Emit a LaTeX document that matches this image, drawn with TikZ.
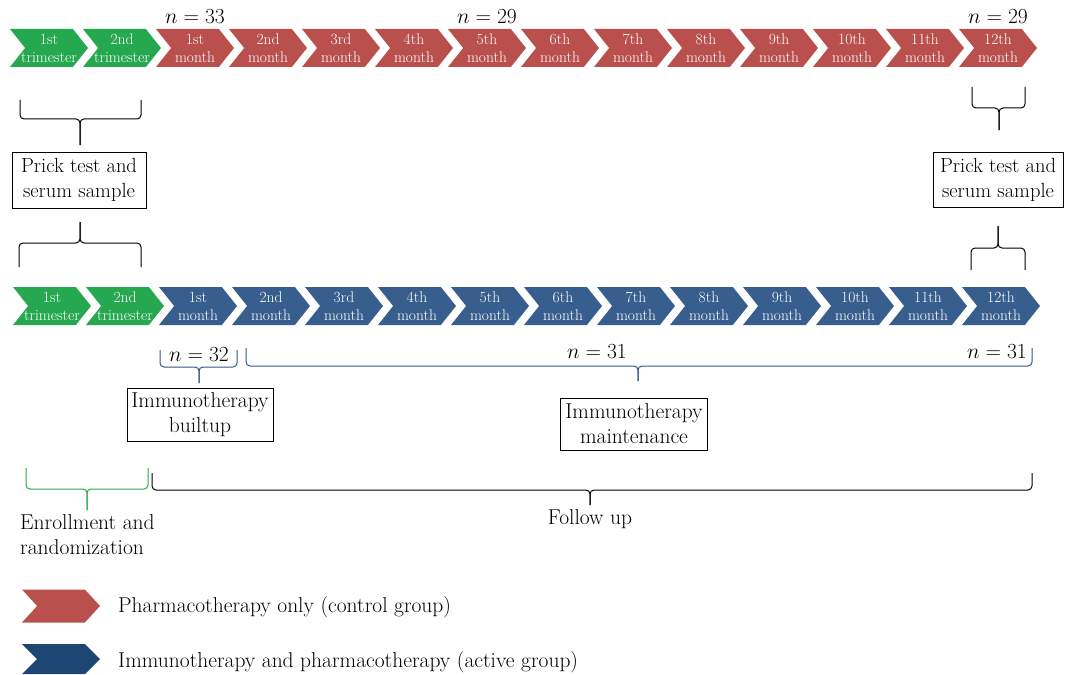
\RequirePackage{fix-cm}
\documentclass[tikz,border=0pt]{standalone}
\usetikzlibrary{shapes.symbols,positioning}
\definecolor{trigreen}{RGB}{38,168,80}
\definecolor{ctlred}{RGB}{185,80,78}
\definecolor{actblue}{RGB}{55,94,141}
\definecolor{legblue}{RGB}{30,70,117}
\definecolor{brcblue}{RGB}{50,85,140}
\definecolor{brcgreen}{RGB}{40,170,70}
\tikzset{%
    chev/.style = {signal, signal from=west, signal to=east, signal pointer angle=103,
        minimum width=78pt, minimum height=38pt, inner sep=0pt, draw=none},
    chevtext/.style = {text=white, align=center, inner sep=0pt, font=\fontsize{15.5}{18}\selectfont},
    box/.style = {draw, line width=0.8pt, align=center, inner sep=0pt, font=\fontsize{21.5}{25}\selectfont},
    txt/.style = {inner sep=0pt, font=\fontsize{21.5}{25}\selectfont},
    brc/.style = {line width=1pt, rounded corners=4pt},
}

\begin{document}
\begin{tikzpicture}[x=1pt, y=-1pt]
    \useasboundingbox (0,0) rectangle (1067,674);

    % control group row
    \foreach \t [count=\k] in {1st,2nd}
        \node[chev, fill=trigreen, label={[chevtext]center:{\t\\trimester}}] (ct\k) at ({49+73*(\k-1)},48) {};
    \foreach \m [count=\k] in {1st,2nd,3rd,4th,5th,6th,7th,8th,9th,10th,11th,12th}
        \node[chev, fill=ctlred, label={[chevtext]center:{\m\\month}}] (cm\k) at ({49+73*(\k+1)},48) {};

    % active group row
    \foreach \t [count=\k] in {1st,2nd}
        \node[chev, fill=trigreen, label={[chevtext]center:{\t\\trimester}}] (at\k) at ({52+73*(\k-1)},306) {};
    \foreach \m [count=\k] in {1st,2nd,3rd,4th,5th,6th,7th,8th,9th,10th,11th,12th}
        \node[chev, fill=actblue, label={[chevtext]center:{\m\\month}}] (am\k) at ({52+73*(\k+1)},306) {};

    % sample sizes
    \node[txt, above=5pt of cm1] (n1) {$n = 33$};
    \node[txt, above=5pt of cm5] (n5) {$n = 29$};
    \node[txt, above=5pt of cm12] (n12) {$n = 29$};
    \node[txt, anchor=base] (nb) at (199,361) {$n = 32$};
    \node[txt, anchor=base] (nm) at (597,358) {$n = 31$};
    \node[txt, anchor=base] (ne) at (997,358) {$n = 31$};

    % boxes
    \node[box, font=\fontsize{20.5}{25}\selectfont, minimum width=134pt, minimum height=56pt] (prick1) at (79,180) {Prick test and\\serum sample};
    \node[box, font=\fontsize{20.5}{25}\selectfont, minimum width=130pt, minimum height=55pt] (prick2) at (998,180) {Prick test and\\serum sample};
    \node[box, minimum width=146pt, minimum height=53pt] (buildup) at (200,415) {Immunotherapy\\builtup};
    \node[box, minimum width=147pt, minimum height=52pt] (maint) at (634,424) {Immunotherapy\\maintenance};

    \node[txt, align=left, anchor=north west] (enroll) at (20,514) {Enrollment and\\randomization};
    \node[txt, anchor=base] (follow) at (590,524) {Follow up};

    % braces
    \draw[brc] (20,100) |- (80,119) -- (80,145);
    \draw[brc] (141,100) |- (80,119) -- (80,145);
    \draw[brc] (972,87) |- (999,108) -- (999,130);
    \draw[brc] (1025,87) |- (999,108) -- (999,130);
    \draw[brc] (19,267) |- (80,243) -- (80,222);
    \draw[brc] (141,267) |- (80,243) -- (80,222);
    \draw[brc] (971,270) |- (998,248) -- (998,226);
    \draw[brc] (1025,270) |- (998,248) -- (998,226);
    \draw[brc, brcblue] (160,350) |- (199,367) -- (199,383);
    \draw[brc, brcblue] (237,350) |- (199,367) -- (199,383);
    \draw[brc, brcblue] (246,348) |- (638,366) -- (638,381);
    \draw[brc, brcblue] (1032,348) |- (638,366) -- (638,381);
    \draw[brc, brcgreen] (26,468) |- (87,489) -- (87,510);
    \draw[brc, brcgreen] (148,468) |- (87,489) -- (87,510);
    \draw[brc] (152,473) |- (590,490) -- (590,505);
    \draw[brc] (1032,473) |- (590,490) -- (590,505);

    % legend
    \node[chev, fill=ctlred, minimum width=78pt, minimum height=33pt, signal pointer angle=95] (legctl) at (61,606) {};
    \node[chev, fill=legblue, minimum width=78pt, minimum height=30pt, signal pointer angle=90] (legact) at (61,659) {};
    \node[txt, anchor=base west] (legctltxt) at (118,612) {Pharmacotherapy only (control group)};
    \node[txt, anchor=base west] (legacttxt) at (118,667) {Immunotherapy and pharmacotherapy (active group)};
\end{tikzpicture}
\end{document}
